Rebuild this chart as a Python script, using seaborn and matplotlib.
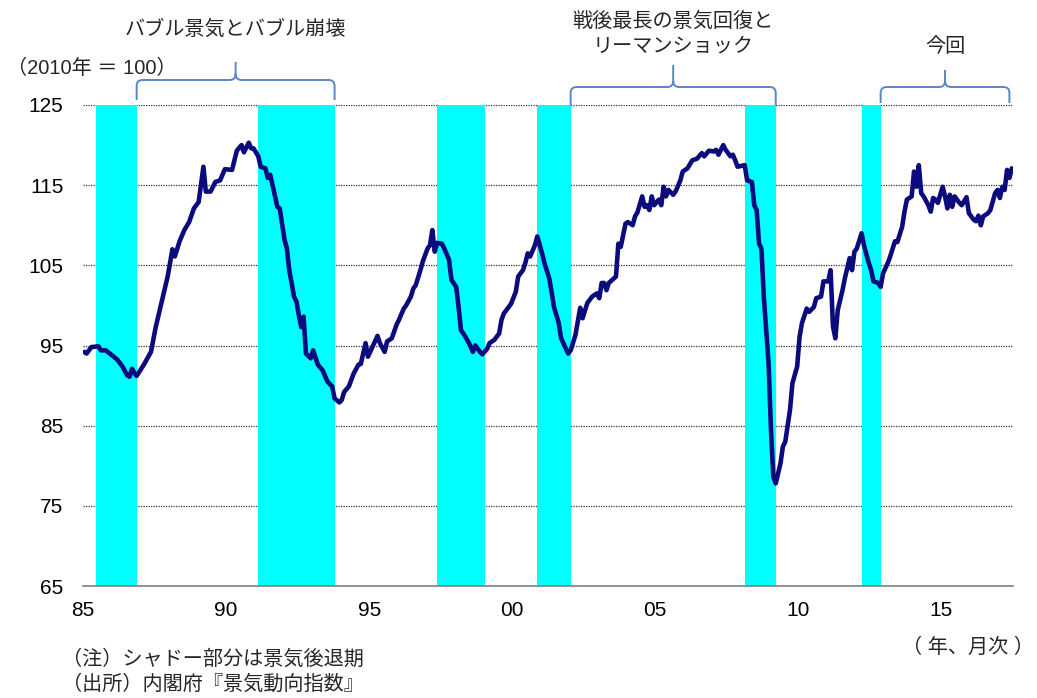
import matplotlib
matplotlib.use("Agg")
import matplotlib.pyplot as plt
from matplotlib.path import Path
from matplotlib.patches import PathPatch
from matplotlib.ticker import MultipleLocator, FixedLocator
import pandas as pd
import seaborn as sns

# ---------------- data ----------------
months = [
    "1985-01", "1985-02", "1985-04", "1985-07", "1985-08", "1985-10",
    "1986-01", "1986-03", "1986-05", "1986-07", "1986-08", "1986-09", "1986-10", "1986-11",
    "1987-02", "1987-05", "1987-07", "1987-09", "1987-12",
    "1988-02", "1988-03", "1988-05", "1988-07", "1988-09", "1988-11",
    "1989-01", "1989-03", "1989-04", "1989-06", "1989-08", "1989-10", "1989-12",
    "1990-03", "1990-05", "1990-07", "1990-08", "1990-10", "1990-11", "1990-12",
    "1991-02", "1991-03", "1991-05", "1991-06", "1991-07", "1991-08", "1991-10", "1991-11",
    "1992-01", "1992-02", "1992-03", "1992-05", "1992-06", "1992-07", "1992-08", "1992-09",
    "1992-10", "1992-12",
    "1993-01", "1993-03", "1993-05", "1993-07", "1993-09", "1993-10", "1993-12",
    "1994-01", "1994-02", "1994-04", "1994-06", "1994-08", "1994-09", "1994-11", "1994-12",
    "1995-02", "1995-04", "1995-05", "1995-07", "1995-08", "1995-10", "1995-12",
    "1996-01", "1996-03", "1996-04", "1996-06", "1996-07", "1996-08", "1996-10", "1996-11",
    "1997-01", "1997-02", "1997-03", "1997-04", "1997-05", "1997-07", "1997-08", "1997-10",
    "1997-11",
    "1998-01", "1998-02", "1998-03", "1998-04", "1998-06", "1998-07", "1998-08", "1998-09",
    "1998-11", "1998-12",
    "1999-02", "1999-03", "1999-05", "1999-07", "1999-08", "1999-09", "1999-11", "1999-12",
    "2000-02", "2000-03", "2000-05", "2000-06", "2000-07", "2000-08", "2000-10", "2000-11",
    "2001-01", "2001-02", "2001-04", "2001-05", "2001-06", "2001-08", "2001-09", "2001-11",
    "2001-12",
    "2002-01", "2002-03", "2002-05", "2002-06", "2002-08", "2002-10", "2002-12",
    "2003-01", "2003-02", "2003-03", "2003-04", "2003-05", "2003-08", "2003-09", "2003-10",
    "2003-12",
    "2004-01", "2004-03", "2004-04", "2004-05", "2004-07", "2004-08", "2004-09", "2004-10",
    "2004-11", "2004-12",
    "2005-02", "2005-03", "2005-04", "2005-05", "2005-06", "2005-08", "2005-09", "2005-11",
    "2005-12",
    "2006-02", "2006-04", "2006-06", "2006-08", "2006-09", "2006-11",
    "2007-01", "2007-02", "2007-03", "2007-05", "2007-06", "2007-08", "2007-09", "2007-10",
    "2007-11",
    "2008-02", "2008-03", "2008-05", "2008-06", "2008-07", "2008-08", "2008-09", "2008-10",
    "2008-12",
    "2009-01", "2009-02", "2009-03", "2009-05", "2009-06", "2009-07", "2009-09", "2009-10",
    "2009-12",
    "2010-01", "2010-02", "2010-04", "2010-05", "2010-07", "2010-08", "2010-10", "2010-11",
    "2011-01", "2011-02", "2011-03", "2011-04", "2011-05", "2011-07", "2011-08", "2011-10",
    "2011-11", "2011-12",
    "2012-01", "2012-03", "2012-04", "2012-06", "2012-07", "2012-08", "2012-10", "2012-11",
    "2012-12",
    "2013-02", "2013-03", "2013-05", "2013-06", "2013-08", "2013-09", "2013-10", "2013-12",
    "2014-01", "2014-02", "2014-03", "2014-04", "2014-05", "2014-07", "2014-08", "2014-09",
    "2014-10", "2014-11",
    "2015-01", "2015-02", "2015-03", "2015-04", "2015-05", "2015-06", "2015-08", "2015-09",
    "2015-11", "2015-12",
    "2016-02", "2016-03", "2016-04", "2016-05", "2016-06", "2016-08", "2016-09", "2016-11",
    "2016-12",
    "2017-01", "2017-02", "2017-03", "2017-04", "2017-05", "2017-06",
]
ci = [
    94.2, 94.0, 94.8, 94.9, 94.4, 94.4,
    93.7, 93.2, 92.4, 91.3, 91.1, 92.1, 91.6, 91.2,
    92.6, 94.2, 97.3, 99.8, 103.6,
    107.0, 106.1, 108.0, 109.4, 110.4, 112.1,
    112.9, 117.3, 114.2, 114.2, 115.4, 115.6, 117.0,
    116.9, 119.3, 120.0, 119.1, 120.3, 119.6, 119.6,
    118.6, 117.3, 117.1, 115.9, 116.3, 115.0, 112.3, 112.1,
    108.2, 107.1, 104.4, 101.1, 100.5, 98.8, 97.3, 98.6,
    94.0, 93.4,
    94.4, 92.6, 91.9, 90.5, 89.9, 88.4, 87.9,
    88.2, 89.2, 89.9, 91.5, 92.6, 92.7, 95.3, 93.6,
    94.9, 96.2, 95.3, 94.2, 95.5, 95.9, 97.6,
    98.2, 99.6, 100.0, 101.1, 102.1, 102.5, 104.4, 105.5,
    107.1, 107.5, 109.4, 106.7, 107.8, 107.7, 107.1, 105.7,
    103.2,
    102.3, 99.8, 96.9, 96.5, 95.5, 94.9, 94.2, 95.0,
    94.2, 93.9,
    94.6, 95.3, 95.7, 96.5, 98.2, 99.0, 99.8, 100.2,
    101.7, 103.6, 104.4, 105.3, 106.5, 106.1, 107.5, 108.6,
    106.5, 105.3, 103.4, 101.7, 99.8, 97.8, 95.9, 94.6,
    94.0,
    94.4, 96.3, 99.7, 98.4, 100.3, 101.1, 101.5,
    100.9, 102.8, 102.8, 101.9, 102.8, 103.6, 107.7, 107.3,
    110.2,
    110.4, 110.0, 111.1, 111.6, 113.6, 112.3, 112.5, 111.9,
    113.6, 112.5,
    113.2, 112.5, 114.8, 113.6, 114.4, 113.8, 114.2, 115.6,
    116.7,
    117.1, 118.1, 118.3, 119.0, 118.6, 119.3,
    119.2, 119.4, 118.8, 120.0, 119.4, 118.6, 118.8, 118.1,
    117.3,
    117.5, 115.6, 115.4, 112.5, 111.9, 107.7, 107.1, 101.1,
    92.8,
    84.5, 78.6, 77.8, 80.3, 82.4, 83.0, 87.0, 90.3,
    92.4,
    96.1, 97.8, 99.6, 99.2, 99.8, 100.9, 101.1, 103.0,
    103.0, 104.4, 97.4, 95.9, 99.4, 101.9, 103.4, 105.9,
    104.4, 106.7,
    107.1, 109.0, 107.5, 105.3, 104.4, 103.0, 102.8, 102.3,
    104.0,
    105.3, 106.1, 108.0, 107.9, 109.8, 111.7, 113.2, 113.6,
    116.7, 114.8, 117.5, 114.0, 113.6, 112.5, 111.7, 113.4,
    113.2, 112.8,
    114.8, 113.6, 112.1, 113.8, 112.3, 113.6, 112.8, 112.5,
    113.5, 111.5,
    110.7, 110.5, 111.2, 110.0, 111.1, 111.5, 111.9, 114.0,
    114.4,
    113.4, 114.8, 114.4, 116.9, 115.9, 117.1,
]

# recession periods (peak month, trough month)
recession_start = ["1985-06", "1991-02", "1997-05", "2000-11", "2008-02", "2012-03"]
recession_end = ["1986-11", "1993-10", "1999-01", "2002-01", "2009-03", "2012-11"]

# braces above the plot: (from, to) and their labels
brace_from = ["1986-11", "2002-01", "2012-11"]
brace_to = ["1993-10", "2009-03", "2017-05"]
brace_labels = ["バブル景気とバブル崩壊", "戦後最長の景気回復と\nリーマンショック", "今回"]

xtick_years = [1985, 1990, 1995, 2000, 2005, 2010, 2015]
xtick_labels = ["85", "90", "95", "00", "05", "10", "15"]
yticks = [65, 75, 85, 95, 105, 115, 125]

# ---------------- styling ----------------
sns.set_theme(style="white")
plt.rcParams["font.family"] = ["Liberation Sans", "Noto Sans CJK JP"]
plt.rcParams["axes.unicode_minus"] = False

W, H = 1037, 698
fig = plt.figure(figsize=(W / 100, H / 100), dpi=100)
ax = fig.add_axes([83 / W, 1 - 586 / H, 930 / W, 481 / H])


def to_x(s):
    y, m = s.split("-")
    return int(y) + (int(m) - 0.5) / 12


df = pd.DataFrame({"x": [to_x(m) for m in months], "ci": ci})

ax.set_xlim(1985, 2017.5)
ax.set_ylim(65, 125)

# recession shading
for s, e in zip(recession_start, recession_end):
    ax.axvspan(to_x(s), to_x(e), color="#00FFFF", lw=0, zorder=1)

# main line
sns.lineplot(data=df, x="x", y="ci", ax=ax, color="#0b0b7d", linewidth=3.3,
             zorder=3, legend=False)

# grid
ax.set_axisbelow(True)
ax.yaxis.grid(True, linestyle=(0, (1, 1)), linewidth=0.9, color="#333333")
ax.xaxis.grid(False)

ax.set_yticks(yticks)
ax.set_yticklabels([str(v) for v in yticks])
ax.xaxis.set_major_locator(FixedLocator(xtick_years))
ax.set_xticklabels(xtick_labels)
ax.xaxis.set_minor_locator(MultipleLocator(1))
ax.tick_params(axis="x", which="both", direction="in", length=5, width=1,
               color="#7f7f7f", pad=11, labelsize=15, labelcolor="#000000")
ax.tick_params(axis="y", length=0, pad=14, labelsize=15, labelcolor="#000000")
ax.set_xlabel("")
ax.set_ylabel("")

for side in ["left", "right", "top"]:
    ax.spines[side].set_visible(False)
ax.spines["bottom"].set_color("#7f7f7f")
ax.spines["bottom"].set_linewidth(1.2)

# ---------------- braces ----------------
fig.canvas.draw()


def xpix(s):
    return ax.transData.transform((to_x(s), 0))[0]


def brace(x0, x1, y_end, y_bar, y_tip, r=6):
    xc = (x0 + x1) / 2
    pts = [
        (x0, y_end), (x0, y_bar + r), (x0, y_bar), (x0 + r, y_bar),
        (xc - r, y_bar), (xc, y_bar), (xc, y_bar - r), (xc, y_tip),
        (xc, y_bar - r), (xc, y_bar), (xc + r, y_bar),
        (x1 - r, y_bar), (x1, y_bar), (x1, y_bar + r), (x1, y_end),
    ]
    codes = [
        Path.MOVETO, Path.LINETO, Path.CURVE3, Path.CURVE3,
        Path.LINETO, Path.CURVE3, Path.CURVE3, Path.LINETO,
        Path.MOVETO, Path.CURVE3, Path.CURVE3,
        Path.LINETO, Path.CURVE3, Path.CURVE3, Path.LINETO,
    ]
    verts = [(px / W, 1 - py / H) for px, py in pts]
    patch = PathPatch(Path(verts, codes), transform=fig.transFigure,
                      facecolor="none", edgecolor="#5b86c4", lw=1.4)
    fig.add_artist(patch)
    return xc


brace_geom = [(100, 80, 62), (105, 87, 65), (103, 87, 70)]
label_y = [29, None, 47]
for i, (bf, bt) in enumerate(zip(brace_from, brace_to)):
    y_end, y_bar, y_tip = brace_geom[i]
    xc = brace(xpix(bf), xpix(bt), y_end, y_bar, y_tip)
    if i == 1:
        l1, l2 = brace_labels[i].split("\n")
        fig.text(xc / W, 1 - 21 / H, l1, ha="center", va="center", fontsize=14.5)
        fig.text(xc / W, 1 - 46 / H, l2, ha="center", va="center", fontsize=14.5)
    else:
        fig.text(xc / W, 1 - label_y[i] / H, brace_labels[i], ha="center",
                 va="center", fontsize=14.5)

# ---------------- other texts ----------------
fig.text(7 / W, 1 - 68 / H, "（2010年 ＝ 100）", ha="left", va="center", fontsize=14.5)
fig.text(1034 / W, 1 - 647 / H, "（ 年、月次 ）", ha="right", va="center", fontsize=14.5)
fig.text(62 / W, 1 - 659 / H, "（注）シャドー部分は景気後退期", ha="left", va="center",
         fontsize=14.5)
fig.text(62 / W, 1 - 684 / H, "（出所）内閣府『景気動向指数』", ha="left", va="center",
         fontsize=14.5)

fig.savefig("out.png", dpi=100, facecolor="white")
